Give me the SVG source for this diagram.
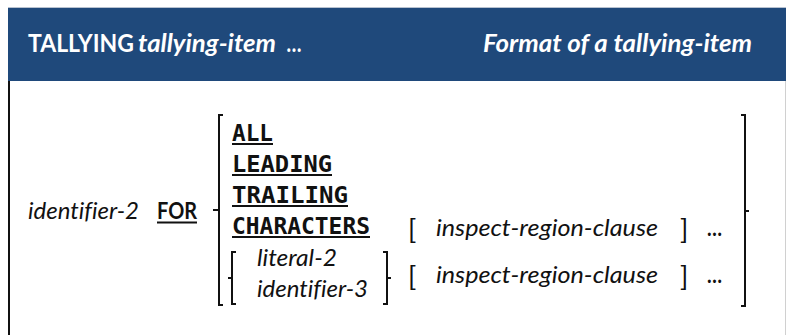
<svg xmlns="http://www.w3.org/2000/svg" width="786" height="335" viewBox="0 0 786 335">
<style>
text{font-variant-ligatures:none}
.hdr{font-family:Lato,"Open Sans","Liberation Sans",sans-serif;font-size:24px;fill:#ffffff;font-weight:bold}
.it{font-family:Lato,"Open Sans","Liberation Sans",sans-serif;font-size:23px;font-style:italic;fill:#111}
.kw{font-family:"DejaVu Sans Mono","Liberation Mono",monospace;font-size:22.5px;font-weight:bold;fill:#111}
.bd{font-family:Lato,"Open Sans","Liberation Sans",sans-serif;font-size:23px;font-weight:bold;fill:#111}
.br{font-family:Lato,"Open Sans","Liberation Sans",sans-serif;font-size:27px;fill:#111}
.ul{stroke:#111;stroke-width:2;fill:none}
.bk{stroke:#111;stroke-width:2;fill:none}
</style>
<rect width="786" height="335" fill="#ffffff"/>
<g id="header">
<rect x="8" y="7" width="778" height="74" fill="#1F497B"/>
<line x1="8" y1="7.5" x2="786" y2="7.5" stroke="#b8c2d0" stroke-width="1"/>
<text class="hdr" x="28" y="52" textLength="106" lengthAdjust="spacingAndGlyphs">TALLYING</text>
<text class="hdr" x="138" y="52" font-style="italic" textLength="138" lengthAdjust="spacingAndGlyphs">tallying-item</text>
<text class="hdr" x="287" y="52" font-style="italic" textLength="15" lengthAdjust="spacingAndGlyphs">…</text>
<text class="hdr" x="483" y="52" font-style="italic" textLength="269" lengthAdjust="spacingAndGlyphs">Format of a tallying-item</text>
</g>
<g id="frame">
<line x1="9" y1="81" x2="9" y2="335" stroke="#111" stroke-width="2"/>
<line x1="785.5" y1="81" x2="785.5" y2="335" stroke="#d0d0d0" stroke-width="1"/>
</g>
<g id="lead">
<text class="it" x="28" y="219" textLength="111" lengthAdjust="spacingAndGlyphs">identifier-2</text>
<text class="bd" x="157" y="219" textLength="40" lengthAdjust="spacingAndGlyphs">FOR</text>
<line class="ul" x1="157" y1="222.5" x2="197" y2="222.5"/>
</g>
<g id="keywords">
<text class="kw" x="232" y="141" textLength="41" lengthAdjust="spacingAndGlyphs">ALL</text>
<line class="ul" x1="232" y1="144" x2="273" y2="144"/>
<text class="kw" x="232" y="172" textLength="100" lengthAdjust="spacingAndGlyphs">LEADING</text>
<line class="ul" x1="232" y1="175" x2="332" y2="175"/>
<text class="kw" x="232" y="203" textLength="116" lengthAdjust="spacingAndGlyphs">TRAILING</text>
<line class="ul" x1="232" y1="206" x2="348" y2="206"/>
<text class="kw" x="232" y="234" textLength="138" lengthAdjust="spacingAndGlyphs">CHARACTERS</text>
<line class="ul" x1="232" y1="237" x2="370" y2="237"/>
</g>
<g id="operands">
<text class="it" x="257" y="266" textLength="80" lengthAdjust="spacingAndGlyphs">literal-2</text>
<text class="it" x="257" y="297" textLength="111" lengthAdjust="spacingAndGlyphs">identifier-3</text>
</g>
<g id="row1">
<text class="br" x="408" y="239">[</text>
<text class="it" x="436" y="236" textLength="222" lengthAdjust="spacingAndGlyphs">inspect-region-clause</text>
<text class="br" x="680" y="239">]</text>
<text class="bd" x="707" y="236" textLength="15" lengthAdjust="spacingAndGlyphs">…</text>
</g>
<g id="row2">
<text class="br" x="408" y="286">[</text>
<text class="it" x="436" y="283" textLength="222" lengthAdjust="spacingAndGlyphs">inspect-region-clause</text>
<text class="br" x="680" y="286">]</text>
<text class="bd" x="707" y="283" textLength="15" lengthAdjust="spacingAndGlyphs">…</text>
</g>
<g id="brackets">
<path class="bk" d="M223,115 H219 V305 H223 M219,210 H213"/>
<path class="bk" d="M236,252 H232 V304 H236 M232,278 H228"/>
<path class="bk" d="M383,252 H387 V304 H383 M387,278 H391"/>
<path class="bk" d="M741,115 H745 V306 H741 M745,211 H749"/>
</g>
</svg>
